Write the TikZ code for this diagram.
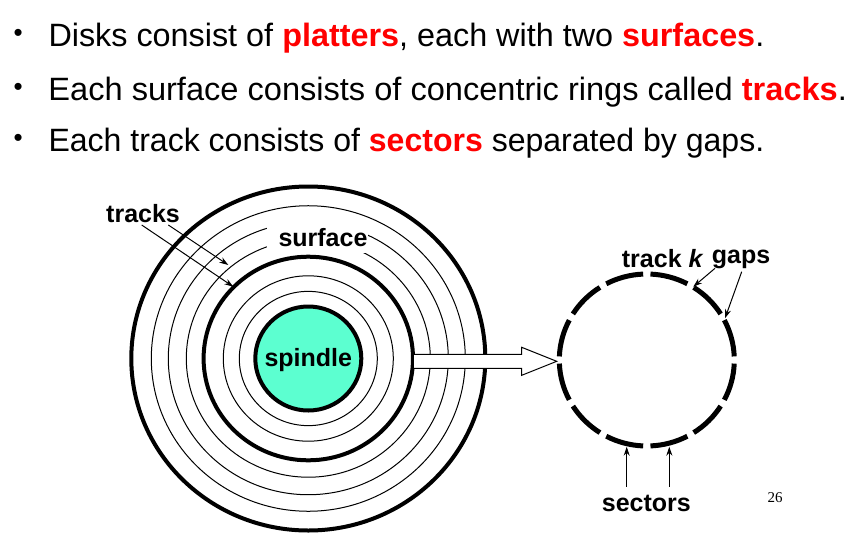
\documentclass[tikz,border=0pt]{standalone}
\usepackage{fontspec}
\usepackage{graphicx}
\setmainfont{Liberation Sans}
\newfontfamily\numfont{Liberation Serif}
\usetikzlibrary{arrows.meta,calc}
\definecolor{spincol}{RGB}{92,255,208}
\definecolor{hotred}{RGB}{255,0,0}
\newcommand{\redw}[1]{{\bfseries\color{hotred}#1}}
\begin{document}
\begin{tikzpicture}[x=1pt,y=-1pt,
  thinring/.style={line width=1pt},
  thickring/.style={line width=4pt},
  lbl/.style={font=\fontsize{25}{30}\selectfont\bfseries, inner sep=0pt, anchor=base west},
  lead/.style={line width=1pt, -{Stealth[length=9pt,width=6pt]}},
  sectorarc/.style={line width=5pt},
  headline/.style={anchor=base west, inner sep=0pt},
  bulletdot/.style={anchor=base, inner sep=0pt, font=\fontsize{26}{26}\selectfont}]
\useasboundingbox[fill=white] (0,0) rectangle (864,541);

% heading lines
\node[bulletdot] (b1) at (18.3,41.9) {•};
\node[bulletdot] (b2) at (18.3,95.2) {•};
\node[bulletdot] (b3) at (18.3,146.9) {•};
\node[headline] (l1) at (48.3,46.7) {\resizebox{715.7pt}{23.4pt}{\fontsize{28}{30}\selectfont Disks consist of \redw{platters}, each with two \redw{surfaces}.}};
\node[headline] (l2) at (48.3,100) {\resizebox{798.4pt}{23.4pt}{\fontsize{28}{30}\selectfont Each surface consists of concentric rings called \redw{tracks}.}};
\node[headline] (l3) at (48.3,151.7) {\resizebox{715.7pt}{23.4pt}{\fontsize{28}{30}\selectfont Each track consists of \redw{sectors} separated by gaps.}};

% disk
\coordinate (disk) at (308.3,358.5);
\draw[thickring] (disk) ellipse[x radius=177, y radius=172];
\foreach \r in {157,140,122,85,69}
  \draw[thinring] (disk) ellipse[x radius=\r, y radius=0.973*\r];
\fill[white] (267,220) rectangle (368,253);
\draw[thickring] (disk) ellipse[x radius=104.7, y radius=101.8];
\draw[thickring, fill=spincol] (disk) ellipse[x radius=53, y radius=52];
\node[lbl, anchor=base] (spindle) at (308.3,366.7) {spindle};
\node[lbl] (surface) at (278.3,246) {surface};
\node[lbl] (tracks) at (106,222) {tracks};

% block arrow
\coordinate (arrTail) at (414,361.3);
\coordinate (arrTip) at (556.7,361.3);
\fill[white] ($(arrTail)+(0,-7)$) -| ($(arrTip)+(-35,-14)$) -- (arrTip) -- ($(arrTip)+(-35,14)$) |- ($(arrTail)+(0,7)$) -- cycle;
\draw[line width=1pt, line join=miter] ($(arrTail)+(0,-7)$) -| ($(arrTip)+(-35,-14)$) -- (arrTip) -- ($(arrTip)+(-35,14)$) |- ($(arrTail)+(0,7)$);

% track k
\coordinate (trk) at (646.8,360);
\foreach \a in {0,30,...,330}
  \draw[sectorarc] ($(trk)+(\a+2.4:87.5 and 86)$) arc[start angle=\a+2.4, end angle=\a+27.6, x radius=87.5, y radius=86];

\node[lbl] (trackk) at (621.7,267.3) {track \textit{k}};
\node[lbl] (gaps) at (711.7,263.3) {gaps};
\node[lbl] (sectors) at (601.7,511) {sectors};
\node[anchor=base, inner sep=0pt, font=\numfont\fontsize{15}{15}\selectfont] (pagenum) at (775,502.7) {26};

% leaders
\coordinate (t1s) at (141.7,225);
\coordinate (t1e) at (233.3,286.7);
\coordinate (t2s) at (168.3,225);
\coordinate (t2e) at (228.3,265);
\draw[lead] (t1s) -- (t1e);
\draw[lead] (t2s) -- (t2e);
\coordinate (g1s) at (715,268.3);
\coordinate (g1e) at (693.3,286.7);
\coordinate (g2s) at (741.7,271.7);
\coordinate (g2e) at (725,318.3);
\draw[lead] (g1s) -- (g1e);
\draw[lead] (g2s) -- (g2e);
\coordinate (s1s) at (626.7,486.7);
\coordinate (s1e) at (626.7,446.7);
\coordinate (s2s) at (669.3,486.7);
\coordinate (s2e) at (669.3,446.7);
\draw[lead] (s1s) -- (s1e);
\draw[lead] (s2s) -- (s2e);
\end{tikzpicture}
\end{document}
